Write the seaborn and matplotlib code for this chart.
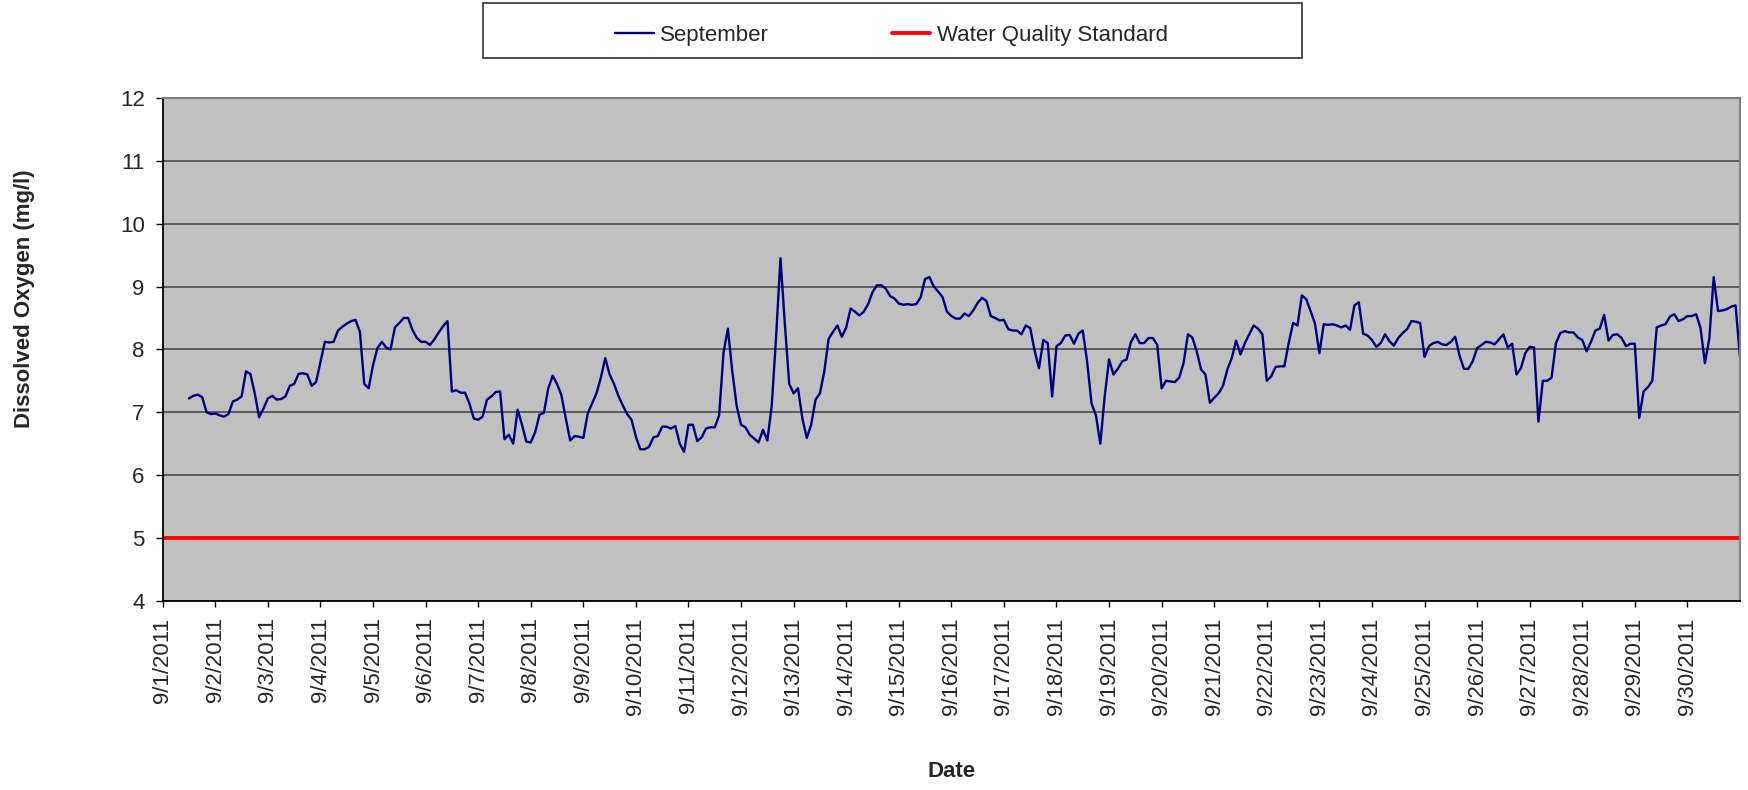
import numpy as np
import pandas as pd
import matplotlib
matplotlib.use("Agg")
import matplotlib.pyplot as plt
import matplotlib.dates as mdates
from matplotlib.patches import Rectangle
import seaborn as sns

# data: dissolved oxygen readings every 2 hours, starting 9/1/2011 12:00
start_time = "2011-09-01 12:00"
step = "2h"

do_values = [
    # 9/1 12:00 - 9/6
    7.22, 7.26, 7.28, 7.24, 7.00, 6.97, 6.98, 6.95, 6.93, 6.97, 7.17, 7.20,
    7.25, 7.65, 7.61, 7.30, 6.92, 7.06, 7.22, 7.26, 7.20, 7.21, 7.25, 7.42,
    7.45, 7.61, 7.62, 7.60, 7.42, 7.48, 7.80, 8.12, 8.11, 8.12, 8.30, 8.36,
    8.41, 8.45, 8.47, 8.28, 7.45, 7.38, 7.75, 8.02, 8.12, 8.03, 8.00, 8.35,
    8.42, 8.50, 8.50, 8.31, 8.18, 8.12, 8.12, 8.07, 8.16, 8.27, 8.37, 8.45,
    # 9/6 - 9/11
    7.33, 7.35, 7.31, 7.31, 7.14, 6.90, 6.88, 6.93, 7.20, 7.25, 7.32, 7.33,
    6.57, 6.64, 6.50, 7.04, 6.80, 6.53, 6.52, 6.68, 6.96, 6.99, 7.38, 7.58,
    7.45, 7.27, 6.90, 6.55, 6.62, 6.61, 6.59, 6.98, 7.14, 7.30, 7.55, 7.86,
    7.60, 7.45, 7.26, 7.11, 6.97, 6.88, 6.61, 6.41, 6.41, 6.45, 6.60, 6.62,
    6.77, 6.77, 6.74, 6.78, 6.50, 6.37, 6.80, 6.80, 6.54, 6.60,
    # 9/11 - 9/16
    6.74, 6.76, 6.76, 6.95, 7.95, 8.33, 7.65, 7.10, 6.80, 6.76, 6.64, 6.58,
    6.52, 6.72, 6.55, 7.10, 8.20, 9.45, 8.40, 7.45, 7.30, 7.38, 6.90, 6.59,
    6.80, 7.20, 7.30, 7.65, 8.17, 8.28, 8.38, 8.20, 8.35, 8.65, 8.60, 8.54,
    8.60, 8.72, 8.91, 9.02, 9.02, 8.97, 8.85, 8.81, 8.73, 8.71, 8.72, 8.71,
    8.72, 8.83, 9.12, 9.15, 9.00, 8.92, 8.83, 8.60, 8.53, 8.49, 8.49,
    # 9/16 - 9/21
    8.57, 8.53, 8.62, 8.74, 8.82, 8.77, 8.53, 8.50, 8.46, 8.47, 8.32, 8.30,
    8.30, 8.24, 8.38, 8.34, 7.98, 7.70, 8.15, 8.10, 7.25, 8.05, 8.10, 8.22,
    8.23, 8.09, 8.25, 8.30, 7.80, 7.14, 6.95, 6.50, 7.25, 7.84, 7.60, 7.69,
    7.81, 7.84, 8.12, 8.24, 8.10, 8.10, 8.18, 8.18, 8.07, 7.38, 7.50, 7.49,
    7.48, 7.55, 7.78, 8.24, 8.19, 7.97, 7.68, 7.60, 7.15, 7.23, 7.30, 7.42,
    # 9/21 - 9/26
    7.68, 7.86, 8.14, 7.92, 8.10, 8.24, 8.38, 8.33, 8.24, 7.50, 7.57, 7.72,
    7.73, 7.73, 8.10, 8.42, 8.38, 8.86, 8.80, 8.61, 8.41, 7.94, 8.40, 8.39,
    8.40, 8.38, 8.35, 8.38, 8.31, 8.70, 8.75, 8.25, 8.22, 8.15, 8.04, 8.10,
    8.24, 8.13, 8.06, 8.18, 8.26, 8.32, 8.45, 8.44, 8.42, 7.88, 8.05, 8.10,
    8.12, 8.08, 8.07, 8.12, 8.20, 7.90, 7.69, 7.69, 7.81, 8.02, 8.07,
    # 9/26 - 9/30
    8.12, 8.11, 8.08, 8.16, 8.24, 8.03, 8.09, 7.60, 7.70, 7.94, 8.04, 8.03,
    6.85, 7.50, 7.50, 7.55, 8.10, 8.26, 8.29, 8.27, 8.27, 8.19, 8.15, 7.97,
    8.12, 8.30, 8.33, 8.55, 8.14, 8.23, 8.24, 8.18, 8.05, 8.09, 8.09, 6.91,
    7.33, 7.40, 7.50, 8.35, 8.38, 8.40, 8.52, 8.56, 8.45, 8.48, 8.53, 8.53,
    8.56, 8.34, 7.78, 8.17, 9.15, 8.61, 8.62, 8.64, 8.68, 8.70, 7.88,
]

wq_standard = 5.0
series_name = "September"
standard_name = "Water Quality Standard"

times = pd.date_range(start_time, periods=len(do_values), freq=step)
df = pd.DataFrame({"time": times, "do": do_values})

# style
sns.set_style("white")
plt.rcParams["font.family"] = ["Liberation Sans", "DejaVu Sans"]

fig = plt.figure(figsize=(17.48, 7.9), dpi=100)
ax = fig.add_axes([0.0931, 0.2396, 0.9023, 0.6363])
ax.set_facecolor("#C0C0C0")

sns.lineplot(data=df, x="time", y="do", color="#000080", linewidth=1.7,
             ax=ax, label=series_name, legend=False)
ax.axhline(wq_standard, color="#FF0000", linewidth=2.8, label=standard_name)

ax.set_ylim(4, 12)
ax.set_yticks(range(4, 13))
ax.set_xlim(pd.Timestamp("2011-09-01"), pd.Timestamp("2011-10-01"))
day_ticks = pd.date_range("2011-09-01", "2011-09-30", freq="D")
ax.set_xticks(day_ticks)
ax.set_xticklabels([f"{d.month}/{d.day}/{d.year}" for d in day_ticks],
                   rotation=90, fontsize=16)
ax.tick_params(axis="y", labelsize=16, length=5, width=1, direction="out",
               left=True, pad=8, color="black")
ax.tick_params(axis="x", length=4, width=1, direction="out", bottom=True,
               pad=8, color="black")

ax.yaxis.grid(True, color="#404040", linewidth=1.1)
ax.set_axisbelow(True)

for side in ["left", "bottom"]:
    ax.spines[side].set_color("black")
    ax.spines[side].set_linewidth(1.3)
for side in ["top", "right"]:
    ax.spines[side].set_color("#808080")
    ax.spines[side].set_linewidth(1.5)

ax.set_xlabel("Date", fontsize=16, fontweight="bold")
ax.set_ylabel("Dissolved Oxygen (mg/l)", fontsize=16, fontweight="bold")
ax.xaxis.set_label_coords(0.5, -0.318)
ax.yaxis.set_label_coords(-0.081, 0.6)

# legend in a box above the plot
handles, labels = ax.get_legend_handles_labels()
fig.legend(handles, labels, loc="center", bbox_to_anchor=(0.51, 0.955),
           ncol=2, frameon=False, fontsize=16, handlelength=1.75,
           handletextpad=0.3, columnspacing=5.5)
fig.patches.append(Rectangle((483 / 1748, 1 - 58 / 790), 819 / 1748, 55 / 790,
                             transform=fig.transFigure, fill=False,
                             edgecolor="#404040", linewidth=1.3))

fig.savefig("out.png", dpi=100)
